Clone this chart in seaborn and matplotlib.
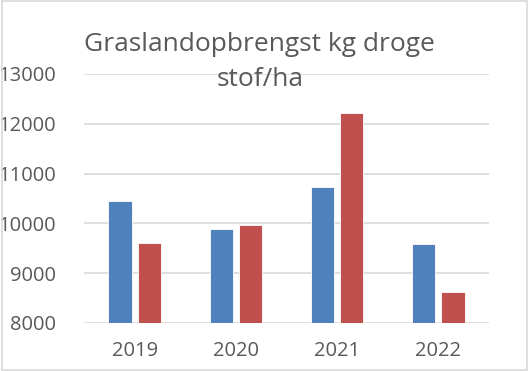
import matplotlib
matplotlib.use("Agg")
import matplotlib.pyplot as plt
import seaborn as sns
import pandas as pd

# values
years = ["2019", "2020", "2021", "2022"]
serie_1 = [10440, 9885, 10725, 9585]
serie_2 = [9605, 9970, 12210, 8620]
kleuren = ["#4F81BD", "#C0504D"]

df = pd.DataFrame({
    "jaar": years * 2,
    "opbrengst": serie_1 + serie_2,
    "serie": ["1"] * len(years) + ["2"] * len(years),
})

sns.set_style("white")
plt.rcParams["font.family"] = ["Open Sans", "DejaVu Sans"]

fig = plt.figure(figsize=(5.3, 3.71), dpi=100)
ax = fig.add_axes([84 / 530, 1 - 323 / 371, 405 / 530, 249 / 371])

sns.barplot(data=df, x="jaar", y="opbrengst", hue="serie", palette=kleuren,
            saturation=1, width=0.575, gap=0.2, edgecolor="white", linewidth=0.6,
            legend=False, ax=ax)

ax.set_ylim(8000, 13000)
ax.set_yticks(range(8000, 13001, 1000))
ax.yaxis.grid(True, color="#d9d9d9", linewidth=1.2)
ax.set_axisbelow(True)
for s in ax.spines.values():
    s.set_visible(False)
ax.tick_params(axis="both", length=0, labelsize=14.5, colors="#595959")
ax.tick_params(axis="y", pad=20)
ax.tick_params(axis="x", pad=13)
ax.set_xlabel("")
ax.set_ylabel("")

fig.text(0.49, 1 - 62 / 371, "Graslandopbrengst kg droge\nstof/ha", ha="center",
         va="center", fontsize=19, color="#595959", linespacing=1.55)

# light frame around the figure
fig.patches.append(plt.Rectangle((0.003, 0.003), 0.991, 0.994, transform=fig.transFigure,
                                 fill=False, edgecolor="#d9d9d9", linewidth=1.2))

fig.savefig("out.png", dpi=100, facecolor="white")
